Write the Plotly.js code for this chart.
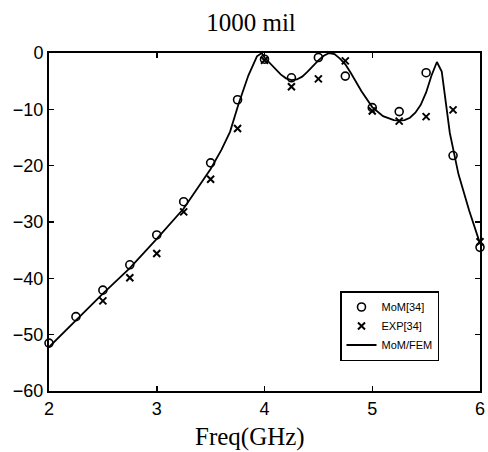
<!DOCTYPE html>
<html><head><meta charset="utf-8">
<script src="https://cdn.plot.ly/plotly-3.0.1.min.js"></script>
<style>html,body{margin:0;padding:0;background:#fff}</style></head>
<body><div id="chart" style="width:488px;height:452px"></div>
<script>
const freqMoM = [2, 2.25, 2.5, 2.75, 3, 3.25, 3.5, 3.75, 4, 4.25, 4.5, 4.75, 5, 5.25, 5.5, 5.75, 6];
const mom = [-51.5, -46.8, -42.1, -37.6, -32.3, -26.4, -19.5, -8.3, -1.1, -4.4, -0.8, -4.1, -9.7, -10.4, -3.5, -18.2, -34.5];
const freqExp = [2.5, 2.75, 3, 3.25, 3.5, 3.75, 4, 4.25, 4.5, 4.75, 5, 5.25, 5.5, 5.75, 6];
const expData = [-44.0, -39.9, -35.6, -28.2, -22.4, -13.4, -1.3, -6.0, -4.6, -1.4, -10.3, -12.1, -11.3, -10.1, -33.5];
const freqFem = [2, 2.25, 2.5, 2.75, 3, 3.25, 3.5, 3.6, 3.68, 3.76, 3.85, 3.93, 3.975, 4, 4.05, 4.1, 4.15, 4.2, 4.25, 4.3, 4.35, 4.4, 4.45, 4.5, 4.55, 4.6, 4.65, 4.7, 4.75, 4.8, 4.9, 5, 5.1, 5.2, 5.25, 5.3, 5.35, 5.4, 5.45, 5.5, 5.55, 5.6, 5.645, 5.72, 5.8, 5.9, 6];
const fem = [-52.2, -47.4, -42.7, -38.2, -33.0, -27.6, -20.6, -17.2, -14.0, -9.0, -4.0, -0.6, 0, -0.8, -1.8, -2.9, -3.8, -4.5, -4.8, -4.7, -4.2, -3.3, -2.3, -1.3, -0.5, 0, -0.2, -1.0, -2.0, -3.5, -6.8, -9.6, -11.2, -11.9, -12.0, -11.9, -11.5, -10.6, -9.2, -7.0, -4.0, -1.6, -3.3, -14.2, -21.5, -28.0, -33.8];
const xTicks = [2, 3, 4, 5, 6];
const yTicks = [-60, -50, -40, -30, -20, -10, 0];
const names = ['MoM[34]', 'EXP[34]', 'MoM/FEM'];

const traces = [
  {x: freqMoM, y: mom, name: names[0], mode: 'markers', type: 'scatter', cliponaxis: false,
   marker: {symbol: 'circle-open', size: 8, color: '#000', line: {width: 1.6, color: '#000'}}},
  {x: freqExp, y: expData, name: names[1], mode: 'markers', type: 'scatter', cliponaxis: false,
   marker: {symbol: 'x-thin-open', size: 7, color: '#000', line: {width: 2, color: '#000'}}},
  {x: freqFem, y: fem, name: names[2], mode: 'lines', type: 'scatter',
   line: {color: '#000', width: 1.8}}
];

const axisCommon = {
  showline: true, linecolor: '#000', linewidth: 2, mirror: 'ticks',
  ticks: 'inside', ticklen: 5, tickwidth: 1.5, tickcolor: '#000',
  showgrid: false, zeroline: false,
  tickfont: {family: 'Liberation Sans, Arial, sans-serif', size: 18, color: '#000'}
};

const layout = {
  width: 488, height: 452,
  margin: {l: 49, r: 8, t: 53, b: 61},
  paper_bgcolor: '#fff', plot_bgcolor: '#fff',
  title: {text: '1000 mil', font: {family: 'Liberation Serif, Times New Roman, serif', size: 25, color: '#000'},
          x: 251 / 488, xref: 'container', xanchor: 'center', y: 1 - 22 / 452, yref: 'container', yanchor: 'middle'},
  xaxis: Object.assign({}, axisCommon, {range: [2, 6], tickvals: xTicks, ticktext: xTicks.map(String)}),
  yaxis: Object.assign({}, axisCommon, {range: [-60, 0], tickvals: yTicks}),
  showlegend: true,
  legend: {x: (340 - 49) / 431, y: (391 - 291) / 338, xanchor: 'left', yanchor: 'top',
           bgcolor: '#fff', bordercolor: '#000', borderwidth: 1.5,
           font: {family: 'Liberation Sans, Arial, sans-serif', size: 11, color: '#000'}},
  annotations: [{text: 'Freq(GHz)', xref: 'paper', yref: 'paper', x: (250 - 49) / 431, y: (391 - 437) / 338,
                 xanchor: 'center', yanchor: 'middle', showarrow: false,
                 font: {family: 'Liberation Serif, Times New Roman, serif', size: 25, color: '#000'}}]
};

Plotly.newPlot('chart', traces, layout, {displayModeBar: false, staticPlot: true});
</script>
</body></html>
